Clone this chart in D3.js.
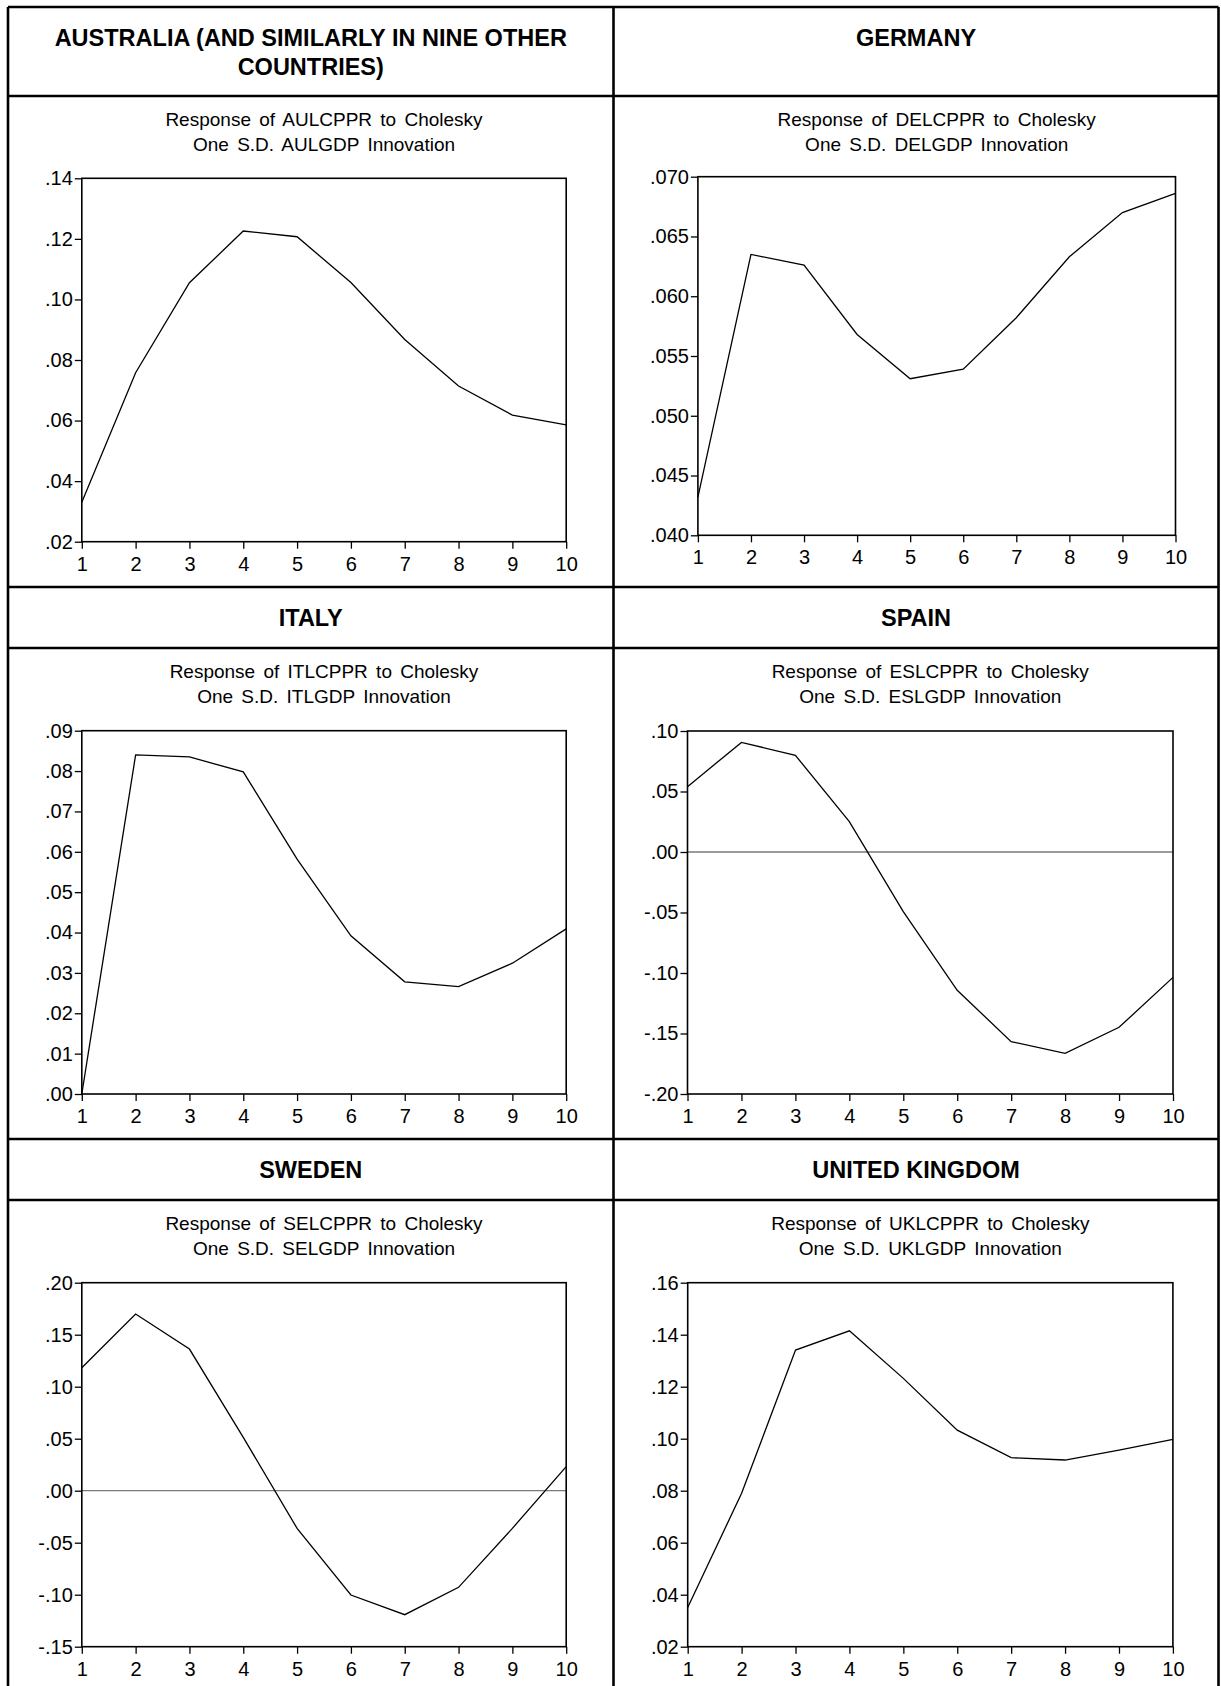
<!DOCTYPE html>
<html>
<head>
<meta charset="utf-8">
<script src="https://cdn.jsdelivr.net/npm/d3@7"></script>
<style>
    body { margin: 0; background: #fff; }
    svg { display: block; font-family: "Liberation Sans", Arial, sans-serif; }
    .header { font-weight: bold; font-size: 23.5px; }
    .chart-title { font-size: 19px; word-spacing: 3px; }
    .tick text { font-size: 20px; fill: #000; }
    .tick line { stroke: #000; stroke-width: 1.3; }
</style>
</head>
<body>
<div id="chart"></div>
<script>
// horizons
const periods = [1, 2, 3, 4, 5, 6, 7, 8, 9, 10];

// country names in the table headers
const headers = [
    ["AUSTRALIA (AND SIMILARLY IN NINE OTHER", "COUNTRIES)"],
    ["GERMANY"],
    ["ITALY"],
    ["SPAIN"],
    ["SWEDEN"],
    ["UNITED KINGDOM"]
];

// variable prefixes
const codes = ["AU", "DE", "IT", "ES", "SE", "UK"];

// impulse responses
const auValues = [0.033, 0.0758, 0.1055, 0.1226, 0.1207, 0.1056, 0.0868, 0.0714, 0.0618, 0.0586];
const deValues = [0.0432, 0.0635, 0.0626, 0.0568, 0.0531, 0.0539, 0.0582, 0.0633, 0.0670, 0.0686];
const itValues = [0.000, 0.0840, 0.0835, 0.0798, 0.0582, 0.0392, 0.0278, 0.0266, 0.0324, 0.0409];
const esValues = [0.054, 0.0906, 0.0799, 0.0251, -0.0493, -0.1143, -0.1567, -0.1664, -0.1449, -0.1036];
const seValues = [0.1183, 0.1699, 0.1362, 0.0513, -0.0362, -0.1003, -0.1192, -0.0929, -0.0362, 0.0231];
const ukValues = [0.0351, 0.0790, 0.1341, 0.1415, 0.1232, 0.1033, 0.0927, 0.0918, 0.0956, 0.0997];

// y tick values
const auTicks = [0.02, 0.04, 0.06, 0.08, 0.10, 0.12, 0.14];
const deTicks = [0.040, 0.045, 0.050, 0.055, 0.060, 0.065, 0.070];
const itTicks = [0.00, 0.01, 0.02, 0.03, 0.04, 0.05, 0.06, 0.07, 0.08, 0.09];
const esTicks = [-0.20, -0.15, -0.10, -0.05, 0.00, 0.05, 0.10];
const seTicks = [-0.15, -0.10, -0.05, 0.00, 0.05, 0.10, 0.15, 0.20];
const ukTicks = [0.02, 0.04, 0.06, 0.08, 0.10, 0.12, 0.14, 0.16];

// decimals shown on the y labels
const tickDigits = [2, 3, 2, 2, 2, 2];

const allValues = [auValues, deValues, itValues, esValues, seValues, ukValues];
const allTicks = [auTicks, deTicks, itTicks, esTicks, seTicks, ukTicks];

const width = 1221, height = 1686;

// table geometry
const tableLeft = 8, tableMid = 613.5, tableRight = 1218.5;
const rowTops = [7, 587, 1139];
const headerHeights = [89, 61, 61];
const cellHeight = 491;

// plot rectangles relative to each chart cell (left, top, right, bottom)
const plotBoxes = [
    {l: 73.8, t: 82.3, r: 558.2, b: 445.7},
    {l: 84.4, t: 80.7, r: 562, b: 439.3},
    {l: 73.8, t: 82.7, r: 558.2, b: 446},
    {l: 74, t: 83, r: 559.5, b: 446},
    {l: 73.8, t: 82.7, r: 558.2, b: 446.7},
    {l: 74.2, t: 82.7, r: 559.4, b: 446.7}
];

const svg = d3.select("#chart").append("svg")
    .attr("width", width)
    .attr("height", height);

// table lines
const grid = svg.append("g")
    .attr("stroke", "#000")
    .attr("stroke-width", 2.6)
    .attr("fill", "none");

let hLines = [];
rowTops.forEach((t, i) => {
    hLines.push(t);
    hLines.push(t + headerHeights[i]);
});
hLines.push(rowTops[2] + headerHeights[2] + cellHeight);

grid.selectAll("line.h")
    .data(hLines)
    .join("line")
    .attr("class", "h")
    .attr("x1", tableLeft)
    .attr("x2", tableRight)
    .attr("y1", d => d)
    .attr("y2", d => d);

grid.selectAll("line.v")
    .data([tableLeft, tableMid, tableRight])
    .join("line")
    .attr("class", "v")
    .attr("x1", d => d)
    .attr("x2", d => d)
    .attr("y1", rowTops[0])
    .attr("y2", hLines[hLines.length - 1]);

codes.forEach((code, i) => {
    let row = Math.floor(i / 2);
    let col = i % 2;
    let cellLeft = col === 0 ? tableLeft : tableMid;
    let cellRight = col === 0 ? tableMid : tableRight;
    let headTop = rowTops[row];
    let cellTop = headTop + headerHeights[row];

    // header text
    svg.append("text")
        .attr("class", "header")
        .attr("text-anchor", "middle")
        .attr("x", (cellLeft + cellRight) / 2)
        .attr("y", headTop + 31)
        .selectAll("tspan")
        .data(headers[i])
        .join("tspan")
        .attr("x", (cellLeft + cellRight) / 2)
        .attr("dy", (d, j) => j === 0 ? "0.35em" : 29)
        .text(d => d);

    let box = plotBoxes[i];
    let left = cellLeft + box.l, right = cellLeft + box.r;
    let top = cellTop + box.t, bottom = cellTop + box.b;

    let g = svg.append("g");

    let ticks = allTicks[i];
    let x = d3.scaleLinear()
        .domain([1, 10])
        .range([left, right]);
    let y = d3.scaleLinear()
        .domain([d3.min(ticks), d3.max(ticks)])
        .range([bottom, top]);

    // chart title
    g.append("text")
        .attr("class", "chart-title")
        .attr("text-anchor", "middle")
        .selectAll("tspan")
        .data([`Response of ${code}LCPPR to Cholesky`, `One S.D. ${code}LGDP Innovation`])
        .join("tspan")
        .attr("x", (left + right) / 2)
        .attr("y", (d, j) => cellTop + 23 + j * 25)
        .attr("dy", "0.35em")
        .text(d => d);

    let digits = tickDigits[i];
    let fmt = v => {
        let s = Math.abs(v).toFixed(digits).replace(/^0/, "");
        return (v < -1e-9 ? "-" : "") + s;
    };

    let yAxis = d3.axisLeft(y)
        .tickValues(ticks)
        .tickFormat(fmt)
        .tickSize(7)
        .tickPadding(2);

    let xAxis = d3.axisBottom(x)
        .tickValues(periods)
        .tickFormat(d3.format("d"))
        .tickSize(7)
        .tickPadding(8);

    g.append("g")
        .attr("transform", `translate(${left},0)`)
        .call(yAxis)
        .call(a => a.select(".domain").remove());

    g.append("g")
        .attr("transform", `translate(0,${bottom})`)
        .call(xAxis)
        .call(a => a.select(".domain").remove());

    // zero line where the range crosses zero
    if (d3.min(ticks) < 0 && d3.max(ticks) > 0) {
        g.append("line")
            .attr("x1", left)
            .attr("x2", right)
            .attr("y1", y(0))
            .attr("y2", y(0))
            .attr("stroke", "#7a7a7a")
            .attr("stroke-width", 1.3);
    }

    let line = d3.line()
        .x((d, j) => x(periods[j]))
        .y(d => y(d));

    g.append("path")
        .datum(allValues[i])
        .attr("d", line)
        .attr("fill", "none")
        .attr("stroke", "#000")
        .attr("stroke-width", 1.3);

    g.append("rect")
        .attr("x", left)
        .attr("y", top)
        .attr("width", right - left)
        .attr("height", bottom - top)
        .attr("fill", "none")
        .attr("stroke", "#000")
        .attr("stroke-width", 1.6);
});
</script>
</body>
</html>
